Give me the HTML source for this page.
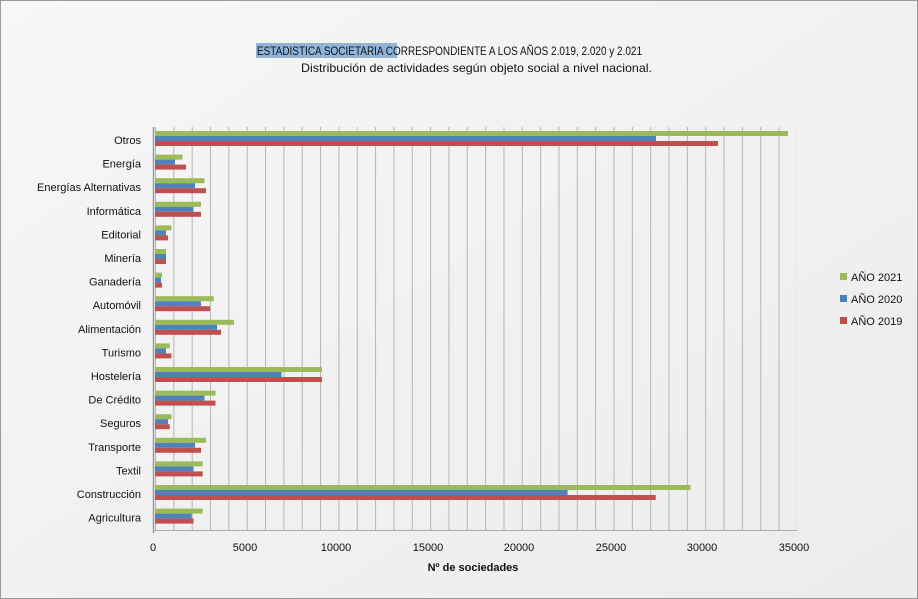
<!DOCTYPE html>
<html><head><meta charset="utf-8"><style>
body{margin:0;width:918px;height:599px;overflow:hidden;background:#fff}
svg{display:block;font-family:"Liberation Sans",sans-serif}
</style></head><body>
<svg width="918" height="599" viewBox="0 0 918 599">
<defs>
<pattern id="gr" x="155" y="0" width="18.34" height="600" patternUnits="userSpaceOnUse">
<line x1="0.5" y1="0" x2="0.5" y2="600" stroke="#b5b5b5" stroke-width="1"/>
</pattern>
<linearGradient id="bg" x1="0" y1="0" x2="1" y2="1">
<stop offset="0" stop-color="#f7f7f7"/><stop offset="0.5" stop-color="#f1f1f1"/><stop offset="1" stop-color="#ececec"/>
</linearGradient>
</defs>
<rect x="0.5" y="0.5" width="917" height="598" fill="url(#bg)" stroke="#9a9a9a"/>
<rect x="256" y="43" width="141" height="15" fill="#8fb4d8"/>
<text x="257" y="55" font-size="12" textLength="385" lengthAdjust="spacingAndGlyphs" fill="#111">ESTADISTICA SOCIETARIA CORRESPONDIENTE A LOS AÑOS  2.019, 2.020 y 2.021</text>
<text x="301" y="72" font-size="12" textLength="351" lengthAdjust="spacingAndGlyphs" fill="#111">Distribución de actividades según objeto social a nivel nacional.</text>
<rect x="155" y="127" width="642" height="403" fill="url(#gr)"/>
<line x1="153.5" y1="127" x2="153.5" y2="533" stroke="#999" stroke-width="1.5"/>
<line x1="153" y1="530.5" x2="797" y2="530.5" stroke="#aaa"/>
<g font-size="11" fill="#111" text-anchor="end">
<text x="141" y="144">Otros</text>
<text x="141" y="167.6">Energía</text>
<text x="141" y="191.2">Energías Alternativas</text>
<text x="141" y="214.8">Informática</text>
<text x="141" y="238.4">Editorial</text>
<text x="141" y="262">Minería</text>
<text x="141" y="285.6">Ganadería</text>
<text x="141" y="309.2">Automóvil</text>
<text x="141" y="332.8">Alimentación</text>
<text x="141" y="356.4">Turismo</text>
<text x="141" y="380">Hostelería</text>
<text x="141" y="403.6">De Crédito</text>
<text x="141" y="427.2">Seguros</text>
<text x="141" y="450.8">Transporte</text>
<text x="141" y="474.4">Textil</text>
<text x="141" y="498">Construcción</text>
<text x="141" y="521.6">Agricultura</text>
</g>
<g id="bars">
<g transform="translate(155,140)"><rect y="-9" width="633" height="5" fill="#9bbb59"/><rect y="-4" width="501" height="5" fill="#4f81bd"/><rect y="1" width="563" height="5" fill="#c0504d"/></g>
<g transform="translate(155,163.6)"><rect y="-9" width="27.5" height="5" fill="#9bbb59"/><rect y="-4" width="20" height="5" fill="#4f81bd"/><rect y="1" width="31" height="5" fill="#c0504d"/></g>
<g transform="translate(155,187.2)"><rect y="-9" width="49.5" height="5" fill="#9bbb59"/><rect y="-4" width="40" height="5" fill="#4f81bd"/><rect y="1" width="51" height="5" fill="#c0504d"/></g>
<g transform="translate(155,210.8)"><rect y="-9" width="46" height="5" fill="#9bbb59"/><rect y="-4" width="38.5" height="5" fill="#4f81bd"/><rect y="1" width="46" height="5" fill="#c0504d"/></g>
<g transform="translate(155,234.4)"><rect y="-9" width="16.5" height="5" fill="#9bbb59"/><rect y="-4" width="11" height="5" fill="#4f81bd"/><rect y="1" width="13" height="5" fill="#c0504d"/></g>
<g transform="translate(155,258)"><rect y="-9" width="11" height="5" fill="#9bbb59"/><rect y="-4" width="11" height="5" fill="#4f81bd"/><rect y="1" width="11" height="5" fill="#c0504d"/></g>
<g transform="translate(155,281.6)"><rect y="-9" width="7" height="5" fill="#9bbb59"/><rect y="-4" width="6" height="5" fill="#4f81bd"/><rect y="1" width="7" height="5" fill="#c0504d"/></g>
<g transform="translate(155,305.2)"><rect y="-9" width="58.7" height="5" fill="#9bbb59"/><rect y="-4" width="46" height="5" fill="#4f81bd"/><rect y="1" width="55" height="5" fill="#c0504d"/></g>
<g transform="translate(155,328.8)"><rect y="-9" width="79" height="5" fill="#9bbb59"/><rect y="-4" width="62" height="5" fill="#4f81bd"/><rect y="1" width="66" height="5" fill="#c0504d"/></g>
<g transform="translate(155,352.4)"><rect y="-9" width="14.7" height="5" fill="#9bbb59"/><rect y="-4" width="11" height="5" fill="#4f81bd"/><rect y="1" width="16.5" height="5" fill="#c0504d"/></g>
<g transform="translate(155,376)"><rect y="-9" width="167" height="5" fill="#9bbb59"/><rect y="-4" width="126.5" height="5" fill="#4f81bd"/><rect y="1" width="167" height="5" fill="#c0504d"/></g>
<g transform="translate(155,399.6)"><rect y="-9" width="60.5" height="5" fill="#9bbb59"/><rect y="-4" width="49.5" height="5" fill="#4f81bd"/><rect y="1" width="60.5" height="5" fill="#c0504d"/></g>
<g transform="translate(155,423.2)"><rect y="-9" width="16.5" height="5" fill="#9bbb59"/><rect y="-4" width="13" height="5" fill="#4f81bd"/><rect y="1" width="14.7" height="5" fill="#c0504d"/></g>
<g transform="translate(155,446.8)"><rect y="-9" width="51" height="5" fill="#9bbb59"/><rect y="-4" width="40" height="5" fill="#4f81bd"/><rect y="1" width="46" height="5" fill="#c0504d"/></g>
<g transform="translate(155,470.4)"><rect y="-9" width="47.7" height="5" fill="#9bbb59"/><rect y="-4" width="38.5" height="5" fill="#4f81bd"/><rect y="1" width="47.7" height="5" fill="#c0504d"/></g>
<g transform="translate(155,494)"><rect y="-9" width="535.5" height="5" fill="#9bbb59"/><rect y="-4" width="412.6" height="5" fill="#4f81bd"/><rect y="1" width="500.7" height="5" fill="#c0504d"/></g>
<g transform="translate(155,517.6)"><rect y="-9" width="47.7" height="5" fill="#9bbb59"/><rect y="-4" width="36.7" height="5" fill="#4f81bd"/><rect y="1" width="38.5" height="5" fill="#c0504d"/></g>
</g>
<g font-size="11" fill="#111" text-anchor="middle">
<text x="153" y="551">0</text>
<text x="245" y="551">5000</text>
<text x="336" y="551">10000</text>
<text x="428" y="551">15000</text>
<text x="519" y="551">20000</text>
<text x="611" y="551">25000</text>
<text x="702" y="551">30000</text>
<text x="794" y="551">35000</text>
</g>
<text x="473" y="571" font-size="11" font-weight="bold" text-anchor="middle" fill="#111">Nº de sociedades</text>
<rect x="840" y="273" width="7" height="7" fill="#9bbb59"/>
<text x="851" y="281" font-size="11" fill="#111">AÑO 2021</text>
<rect x="840" y="295" width="7" height="7" fill="#4f81bd"/>
<text x="851" y="303" font-size="11" fill="#111">AÑO 2020</text>
<rect x="840" y="317" width="7" height="7" fill="#c0504d"/>
<text x="851" y="325" font-size="11" fill="#111">AÑO 2019</text>
</svg>
</body></html>
